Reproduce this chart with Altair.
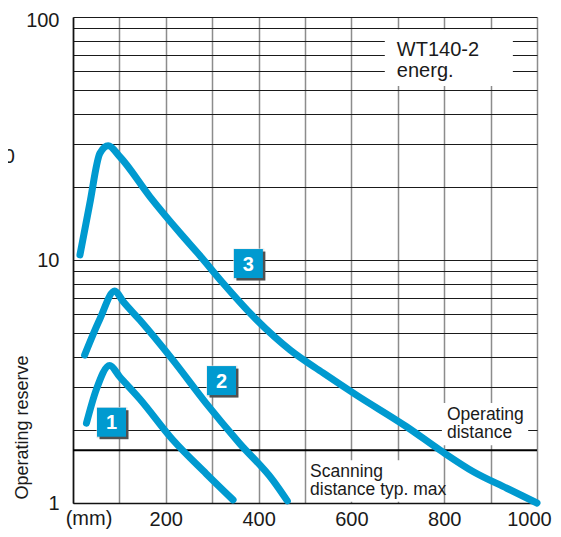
import altair as alt
import pandas as pd

# ---- data ----
curve1_mm = [29, 50, 79, 101, 144, 215, 287, 345]
curve1_val = [2.13, 2.92, 3.68, 3.30, 2.68, 1.82, 1.32, 1.03]

curve2_mm = [25, 57, 90, 108, 144, 215, 287, 359, 431, 462]
curve2_val = [4.06, 5.66, 7.45, 6.75, 5.66, 3.88, 2.57, 1.76, 1.24, 1.02]

curve3_mm = [15, 36, 58, 76, 101, 166, 231, 274, 324, 396, 468, 539, 611, 719, 791, 863, 935, 1000]
curve3_val = [10.5, 17.0, 27.5, 29.5, 26.6, 18.2, 12.9, 10.4, 8.0, 5.66, 4.26, 3.43, 2.78, 2.06, 1.65, 1.345, 1.15, 1.0]

box_labels = ["1", "2", "3"]
box_mm = [83, 320, 378]
box_val = [2.15, 3.19, 9.67]

operating_limit = [1.65]

x_ticks = list(range(0, 1001, 100))
y_ticks = [1, 2, 3, 4, 5, 6, 7, 8, 9, 10, 20, 30, 40, 50, 60, 70, 80, 90, 100]

# annotation texts, anchor (left, first baseline) and white backing boxes
note_wt = "WT140-2\nenerg."
note_wt_pos = (698, 69.1)
note_wt_box = (672, 948, 52, 89)

note_op = "Operating\ndistance"
note_op_pos = (806, 2.196)
note_op_box = (795, 981, 1.73, 2.58)

note_sc = "Scanning\ndistance typ. max"
note_sc_pos = (511, 1.279)
note_sc_box = (505, 795, 1.012, 1.50)

FONT = "Liberation Sans"
BLUE = "#009ad0"
TXT = "#1a1a1a"

rows = []
for cid, xs, ys in [("1", curve1_mm, curve1_val), ("2", curve2_mm, curve2_val), ("3", curve3_mm, curve3_val)]:
    for x, y in zip(xs, ys):
        rows.append({"curve": cid, "mm": x, "reserve": y})
curves = pd.DataFrame(rows)

xscale = alt.Scale(domain=[0, 1000], nice=False, zero=False)
yscale = alt.Scale(type="log", domain=[1, 100], nice=False)

xaxis = alt.Axis(
    values=x_ticks,
    labelExpr="datum.value >= 200 && datum.value % 200 == 0 ? '' + datum.value : ''",
    grid=True, gridColor="#8c8c8c", gridWidth=1.5,
    ticks=False, domain=True, domainColor="#111111", domainWidth=1.6,
    labelFont=FONT, labelFontSize=20, labelColor=TXT, labelPadding=22,
    labelOffset={"condition": {"test": "datum.value == 1000", "value": -8}, "value": 0},
    labelBaseline="alphabetic", labelFlush=False, labelOverlap=False, title=None,
)
yaxis = alt.Axis(
    values=y_ticks,
    labelExpr="datum.value == 1 || datum.value == 10 || datum.value == 100 ? '' + datum.value : ''",
    grid=True, gridColor="#1a1a1a", gridWidth=1,
    ticks=False, domain=True, domainColor="#111111", domainWidth=1.6,
    labelFont=FONT, labelFontSize=20, labelColor=TXT, labelPadding=14,
    labelOffset={"condition": {"test": "datum.value == 100", "value": 3}, "value": 0},
    labelBaseline="middle", labelFlush=False, labelOverlap=False, title=None,
)


def X(field):
    return alt.X(field, type="quantitative", scale=xscale, axis=xaxis)


def Y(field):
    return alt.Y(field, type="quantitative", scale=yscale, axis=yaxis)


boxes = pd.DataFrame([
    {"x0": b[0], "x1": b[1], "y0": b[2], "y1": b[3]} for b in (note_wt_box, note_op_box, note_sc_box)
])
white = alt.Chart(boxes).mark_rect(color="white").encode(
    x=X("x0"), x2="x1", y=Y("y0"), y2="y1"
)

limit = alt.Chart(pd.DataFrame({"v": operating_limit})).mark_rule(color="#000000", strokeWidth=2).encode(
    y=Y("v")
)

lines = alt.Chart(curves).mark_line(
    color=BLUE, strokeWidth=7, strokeCap="round", strokeJoin="round", interpolate="monotone"
).encode(x=X("mm"), y=Y("reserve"), detail="curve:N")

bx = pd.DataFrame({"lab": box_labels, "mm": box_mm, "v": box_val})
shadow = alt.Chart(bx).mark_square(size=841, color="#505050", opacity=1, xOffset=2.5, yOffset=2.5).encode(
    x=X("mm"), y=Y("v")
)
halo = alt.Chart(bx).mark_square(size=961, color="#e6e6e6", opacity=1, xOffset=0.5, yOffset=0.5).encode(
    x=X("mm"), y=Y("v")
)
square = alt.Chart(bx).mark_square(size=841, color=BLUE, opacity=1).encode(x=X("mm"), y=Y("v"))
num = alt.Chart(bx).mark_text(
    color="white", font=FONT, fontSize=20, fontWeight="bold", baseline="middle", align="center", dy=1
).encode(x=X("mm"), y=Y("v"), text="lab:N")


def note(text, pos, size, lh):
    df = pd.DataFrame({"t": [text], "mm": [pos[0]], "v": [pos[1]]})
    return alt.Chart(df).mark_text(
        font=FONT, fontSize=size, color=TXT, align="left", baseline="alphabetic",
        lineBreak="\n", lineHeight=lh
    ).encode(x=X("mm"), y=Y("v"), text="t:N")


t_wt = note(note_wt, note_wt_pos, 20, 21)
t_op = note(note_op, note_op_pos, 17.5, 18)
t_sc = note(note_sc, note_sc_pos, 17.5, 18)

mm_lbl = alt.Chart(pd.DataFrame({"t": ["(mm)"], "mm": [34.5]})).mark_text(
    font=FONT, fontSize=20, color=TXT, align="center", baseline="alphabetic"
).encode(x=X("mm"), y=alt.value(508), text="t:N")

ytitle = alt.Chart(pd.DataFrame({"t": ["Operating reserve"]})).mark_text(
    font=FONT, fontSize=18, color=TXT, angle=270, align="center", baseline="bottom"
).encode(x=alt.value(-41), y=alt.value(410.5), text="t:N")

stray = alt.Chart(pd.DataFrame({"t": ["100"]})).mark_text(
    font=FONT, fontSize=20, color=TXT, align="right", baseline="middle"
).encode(x=alt.value(-58), y=alt.value(140), text="t:N")

chart = alt.layer(
    white, limit, lines, halo, shadow, square, num, t_wt, t_op, t_sc, mm_lbl, ytitle, stray
).properties(
    width=464, height=486,
    autosize=alt.AutoSizeParams(type="none"),
    padding={"left": 65, "top": 9, "right": 16, "bottom": 26},
    background="white",
).configure_view(strokeWidth=0)

chart.save("out.html", embed_options={"renderer": "svg", "actions": False})
